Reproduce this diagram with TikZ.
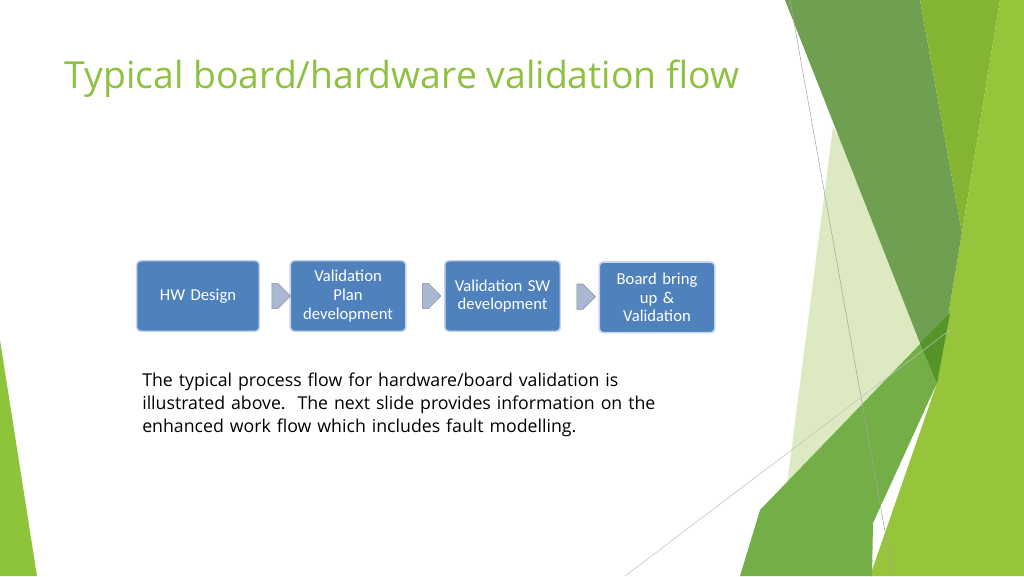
\documentclass[tikz,border=0pt]{standalone}
\usepackage{fontspec}
\setmainfont{Open Sans}
\newfontfamily\boxfont{Carlito}
\usetikzlibrary{positioning,shapes.arrows,calc}
\definecolor{titlegreen}{HTML}{8DC13F}
\definecolor{stepblue}{HTML}{4F81BD}
\definecolor{stepedge}{HTML}{C6D6EC}
\definecolor{arrowgray}{HTML}{A9B8D0}
\tikzset{
  stepbox/.style={draw=stepedge, line width=1.2pt, fill=stepblue, rounded corners=3pt,
    minimum width=84pt, minimum height=53pt, text width=80pt, align=center,
    text=white, font=\boxfont\fontsize{12.5}{14}\selectfont},
  steparrow/.style={single arrow, draw=arrowgray!80!black, fill=arrowgray, minimum width=19pt,
    single arrow head extend=0pt, minimum height=14pt, inner sep=0pt}
}
\begin{document}
\begin{tikzpicture}[x=0.75pt,y=-0.75pt]
\useasboundingbox (0,0) rectangle (1024,576);
% decoration
\fill[color={rgb,255:red,141;green,196;blue,58}] (0,340) -- (37,576) -- (0,576) -- cycle;
\fill[color={rgb,255:red,221;green,233;blue,192}] (833,127) -- (950,313) -- (770,500) -- (785,500) -- cycle;
\fill[color={rgb,255:red,111;green,159;blue,80}] (785,0) -- (920,0) -- (962,233) -- (937,383) -- (920,343) -- cycle;
\fill[color={rgb,255:red,132;green,181;blue,50}] (920,0) -- (1000,0) -- (962,233) -- cycle;
\fill[color={rgb,255:red,150;green,197;blue,60}] (1000,0) -- (1024,0) -- (1024,576) -- (870,576) -- (937,383) -- (962,233) -- cycle;
\fill[color={rgb,255:red,116;green,174;blue,70}] (760,510) -- (950,313) -- (937,383) -- (873,523) -- (872,576) -- (740,576) -- cycle;
\fill[color={rgb,255:red,84;green,148;blue,40}] (920,343) -- (950,313) -- (937,383) -- cycle;
\draw[gray!70, line width=0.4pt] (790,0) -- (893,576);
\draw[gray!50, line width=0.4pt] (625,576) -- (950,330);
% title
\node (title) [anchor=west, text=titlegreen, font=\fontsize{28}{32}\selectfont] at (60,79) {Typical board/hardware validation flow};
% flow
\node (hw) [stepbox, minimum width=92pt] at (198,296) {HW Design};
\node (plan) [stepbox, right=22pt of hw] {Validation\\Plan\\development};
\node (sw) [stepbox, right=28pt of plan] {Validation SW\\development};
\node (board) [stepbox, right=28pt of sw, yshift=-1pt] {Board bring\\up \&\\Validation};
\node (a1) [steparrow] at ($(hw.east)!0.5!(plan.west)$) {};
\node (a2) [steparrow] at ($(plan.east)!0.5!(sw.west)$) {};
\node (a3) [steparrow] at ($(sw.east)!0.5!(board.west)$) {};
% text
\node (desc) [anchor=north west, text width=480pt, align=left, inner sep=0pt,
  font=\fontsize{13.3}{17.3}\selectfont] at (142,373)
  {The typical process flow for hardware/board validation is\\
   illustrated above.\ \ The next slide provides information on the\\
   enhanced work flow which includes fault modelling.};
\end{tikzpicture}
\end{document}
